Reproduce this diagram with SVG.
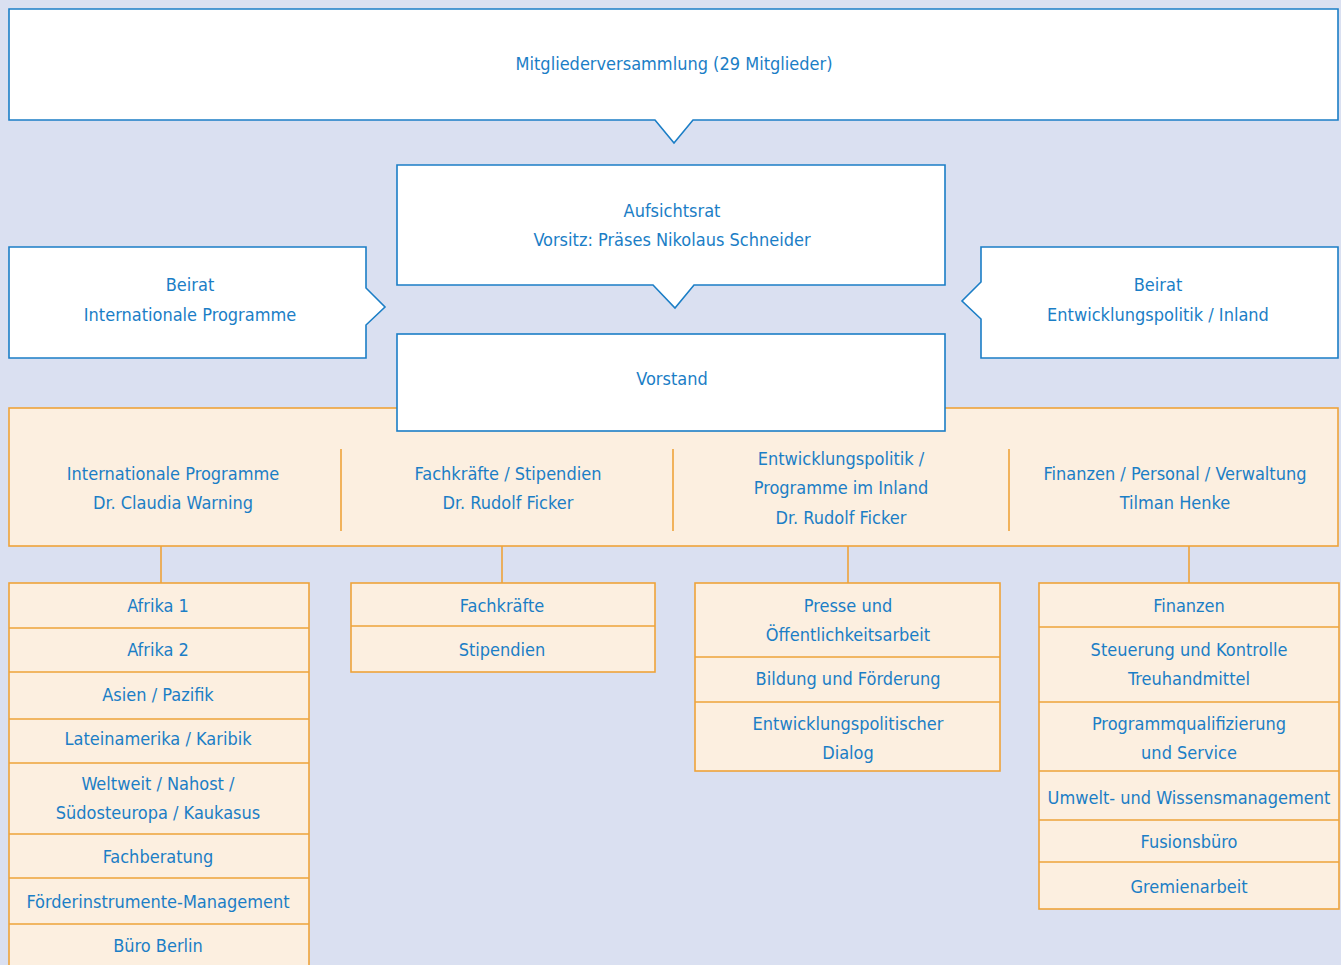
<svg xmlns="http://www.w3.org/2000/svg" width="1341" height="965" viewBox="0 0 1341 965">
<style>
.b{fill:#ffffff;stroke:#1b7ec6;stroke-width:1.6}
.o{fill:#fcefe0;stroke:#eea33a;stroke-width:1.6}
.l{stroke:#eea33a;stroke-width:1.6;fill:none}
text{font-family:"DejaVu Sans Condensed","Liberation Sans Narrow","Liberation Sans",sans-serif;font-size:18px;fill:#1b7ec6;text-anchor:middle;font-stretch:condensed}
</style>
<rect width="1341" height="965" fill="#dae0f1"/>
<g id="connectors">
<line class="l" x1="161" y1="546" x2="161" y2="583"/>
<line class="l" x1="502" y1="546" x2="502" y2="583"/>
<line class="l" x1="848" y1="546" x2="848" y2="583"/>
<line class="l" x1="1189" y1="546" x2="1189" y2="583"/>
</g>
<g id="mitglieder">
<path class="b" d="M9 9H1338V120H693L674 143L655 120H9Z"/>
<text x="674" y="70">Mitgliederversammlung (29 Mitglieder)</text>
</g>
<g id="aufsichtsrat">
<path class="b" d="M397 165H945V285H694L675 308L653 285H397Z"/>
<text x="672" y="217">Aufsichtsrat</text>
<text x="672" y="246">Vorsitz: Präses Nikolaus Schneider</text>
</g>
<g id="beirat-int">
<path class="b" d="M9 247H366V288L385 307L366 325V358H9Z"/>
<text x="190" y="291">Beirat</text>
<text x="190" y="321">Internationale Programme</text>
</g>
<g id="beirat-ent">
<path class="b" d="M981 247H1338V358H981V319L962 301L981 282Z"/>
<text x="1158" y="291">Beirat</text>
<text x="1158" y="321">Entwicklungspolitik / Inland</text>
</g>
<g id="bereiche">
<rect class="o" x="9" y="408" width="1329" height="138"/>
<line class="l" x1="341" y1="449" x2="341" y2="531"/>
<line class="l" x1="673" y1="449" x2="673" y2="531"/>
<line class="l" x1="1009" y1="449" x2="1009" y2="531"/>
<text x="173" y="480">Internationale Programme</text>
<text x="173" y="509">Dr. Claudia Warning</text>
<text x="508" y="480">Fachkräfte / Stipendien</text>
<text x="508" y="509">Dr. Rudolf Ficker</text>
<text x="841" y="465">Entwicklungspolitik /</text>
<text x="841" y="494">Programme im Inland</text>
<text x="841" y="524">Dr. Rudolf Ficker</text>
<text x="1175" y="480">Finanzen / Personal / Verwaltung</text>
<text x="1175" y="509">Tilman Henke</text>
</g>
<g id="vorstand">
<rect class="b" x="397" y="334" width="548" height="97"/>
<text x="672" y="385">Vorstand</text>
</g>
<g id="col1">
<rect class="o" x="9" y="583" width="300" height="390"/>
<line class="l" x1="9" y1="628" x2="309" y2="628"/>
<line class="l" x1="9" y1="672" x2="309" y2="672"/>
<line class="l" x1="9" y1="719" x2="309" y2="719"/>
<line class="l" x1="9" y1="763" x2="309" y2="763"/>
<line class="l" x1="9" y1="834" x2="309" y2="834"/>
<line class="l" x1="9" y1="878" x2="309" y2="878"/>
<line class="l" x1="9" y1="924" x2="309" y2="924"/>
<text x="158" y="612">Afrika 1</text>
<text x="158" y="656">Afrika 2</text>
<text x="158" y="701">Asien / Pazifik</text>
<text x="158" y="745">Lateinamerika / Karibik</text>
<text x="158" y="790">Weltweit / Nahost /</text>
<text x="158" y="819">Südosteuropa / Kaukasus</text>
<text x="158" y="863">Fachberatung</text>
<text x="158" y="908">Förderinstrumente-Management</text>
<text x="158" y="952">Büro Berlin</text>
</g>
<g id="col2">
<rect class="o" x="351" y="583" width="304" height="89"/>
<line class="l" x1="351" y1="626" x2="655" y2="626"/>
<text x="502" y="612">Fachkräfte</text>
<text x="502" y="656">Stipendien</text>
</g>
<g id="col3">
<rect class="o" x="695" y="583" width="305" height="188"/>
<line class="l" x1="695" y1="657" x2="1000" y2="657"/>
<line class="l" x1="695" y1="702" x2="1000" y2="702"/>
<text x="848" y="612">Presse und</text>
<text x="848" y="641">Öffentlichkeitsarbeit</text>
<text x="848" y="685">Bildung und Förderung</text>
<text x="848" y="730">Entwicklungspolitischer</text>
<text x="848" y="759">Dialog</text>
</g>
<g id="col4">
<rect class="o" x="1039" y="583" width="300" height="326"/>
<line class="l" x1="1039" y1="627" x2="1339" y2="627"/>
<line class="l" x1="1039" y1="702" x2="1339" y2="702"/>
<line class="l" x1="1039" y1="771" x2="1339" y2="771"/>
<line class="l" x1="1039" y1="820" x2="1339" y2="820"/>
<line class="l" x1="1039" y1="862" x2="1339" y2="862"/>
<text x="1189" y="612">Finanzen</text>
<text x="1189" y="656">Steuerung und Kontrolle</text>
<text x="1189" y="685">Treuhandmittel</text>
<text x="1189" y="730">Programmqualifizierung</text>
<text x="1189" y="759">und Service</text>
<text x="1189" y="804">Umwelt- und Wissensmanagement</text>
<text x="1189" y="848">Fusionsbüro</text>
<text x="1189" y="893">Gremienarbeit</text>
</g>
</svg>
